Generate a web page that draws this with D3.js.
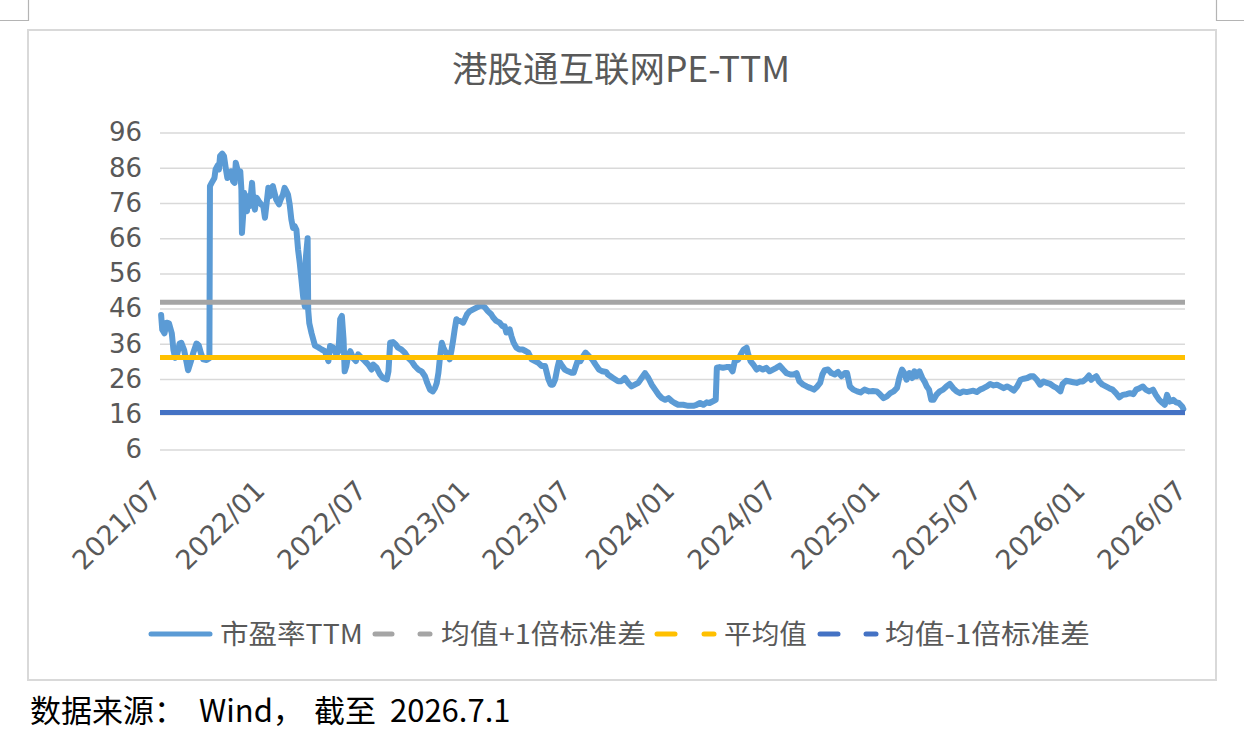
<!DOCTYPE html>
<html><head><meta charset="utf-8">
<script src="https://cdn.jsdelivr.net/npm/d3@7"></script>
<style>body{margin:0;background:#fff}svg{display:block}</style>
</head><body>
<svg id="chart" width="1244" height="746"></svg>
<script>
const chartTitle = "港股通互联网PE-TTM";
const seriesNames = ["市盈率TTM", "均值+1倍标准差", "平均值", "均值-1倍标准差"];
const seriesColors = ["#5B9BD5", "#A5A5A5", "#FFC000", "#4472C4"];
const yTicks = [6, 16, 26, 36, 46, 56, 66, 76, 86, 96];
const xTickLabels = ["2021/07","2022/01","2022/07","2023/01","2023/07","2024/01","2024/07","2025/01","2025/07","2026/01","2026/07"];
const meanPlusSd = 47.8;
const meanValue = 32.1;
const meanMinusSd = 16.5;
const sourceParts = ["数据来源：", "Wind，", "截至", "2026.7.1"];

const dates = [
"2021-07-03","2021-07-05","2021-07-09","2021-07-13","2021-07-17","2021-07-22","2021-07-25","2021-07-28","2021-08-01","2021-08-05",
"2021-08-08","2021-08-13","2021-08-17","2021-08-20","2021-08-25","2021-08-29","2021-09-04","2021-09-08","2021-09-12","2021-09-16",
"2021-09-22","2021-09-27","2021-09-28","2021-10-01","2021-10-06","2021-10-08","2021-10-12","2021-10-14","2021-10-16","2021-10-20",
"2021-10-23","2021-10-26","2021-10-29","2021-11-02","2021-11-05","2021-11-08","2021-11-11","2021-11-13","2021-11-16","2021-11-18",
"2021-11-21","2021-11-23","2021-11-24","2021-11-26","2021-11-28","2021-11-30","2021-12-03","2021-12-05","2021-12-08","2021-12-12",
"2021-12-14","2021-12-17","2021-12-20","2021-12-24","2021-12-28",
"2022-01-01","2022-01-04","2022-01-07","2022-01-10","2022-01-13","2022-01-16","2022-01-18","2022-01-21","2022-01-24","2022-01-29",
"2022-02-01","2022-02-05","2022-02-08","2022-02-11","2022-02-14","2022-02-17","2022-02-20","2022-02-23","2022-02-26","2022-03-01",
"2022-03-04","2022-03-07","2022-03-10","2022-03-13","2022-03-16","2022-03-18","2022-03-21","2022-03-22","2022-03-24","2022-03-28",
"2022-04-03","2022-04-09","2022-04-15","2022-04-21","2022-04-27","2022-04-30","2022-05-06","2022-05-11","2022-05-15","2022-05-18",
"2022-05-21","2022-05-24","2022-05-26","2022-05-29","2022-06-01","2022-06-05","2022-06-10","2022-06-15","2022-06-19","2022-06-25",
"2022-07-01","2022-07-07","2022-07-13","2022-07-16","2022-07-22","2022-07-28","2022-08-02","2022-08-09","2022-08-12","2022-08-15",
"2022-08-20","2022-08-25","2022-08-29","2022-09-04","2022-09-10","2022-09-16","2022-09-22","2022-09-28","2022-10-04","2022-10-10",
"2022-10-16","2022-10-20","2022-10-25","2022-10-30","2022-11-03","2022-11-06","2022-11-09","2022-11-12","2022-11-15","2022-11-18",
"2022-11-21","2022-11-25","2022-11-29","2022-12-02","2022-12-05","2022-12-08","2022-12-11","2022-12-14","2022-12-18","2022-12-23",
"2022-12-26","2022-12-30",
"2023-01-04","2023-01-10","2023-01-16","2023-01-22","2023-01-26","2023-01-31","2023-02-05","2023-02-11","2023-02-15","2023-02-20",
"2023-02-26","2023-03-03","2023-03-07","2023-03-10","2023-03-16","2023-03-19","2023-03-23","2023-03-28","2023-04-02","2023-04-08",
"2023-04-14","2023-04-18","2023-04-24","2023-04-30","2023-05-06","2023-05-12","2023-05-18","2023-05-21","2023-05-24","2023-05-28",
"2023-06-01","2023-06-05","2023-06-09","2023-06-12","2023-06-16","2023-06-22","2023-06-28","2023-07-04","2023-07-08","2023-07-12",
"2023-07-16","2023-07-20","2023-07-25","2023-07-29","2023-08-04","2023-08-10","2023-08-16","2023-08-22","2023-08-28","2023-09-04",
"2023-09-07","2023-09-16","2023-09-25","2023-10-01","2023-10-07","2023-10-13","2023-10-19","2023-10-25","2023-10-31","2023-11-06",
"2023-11-12","2023-11-18","2023-11-24","2023-11-30","2023-12-06","2023-12-12","2023-12-18","2023-12-24","2023-12-30",
"2024-01-04","2024-01-10","2024-01-19","2024-01-28","2024-02-06","2024-02-12","2024-02-18","2024-02-24","2024-03-01","2024-03-06",
"2024-03-12","2024-03-17","2024-03-19","2024-03-24","2024-03-30","2024-04-05","2024-04-11","2024-04-16","2024-04-20","2024-04-26",
"2024-05-02","2024-05-06","2024-05-11","2024-05-14","2024-05-18","2024-05-23","2024-05-29","2024-06-03","2024-06-09","2024-06-15",
"2024-06-21","2024-06-27","2024-07-03","2024-07-09","2024-07-15","2024-07-21","2024-07-28","2024-08-03","2024-08-08","2024-08-13",
"2024-08-20","2024-08-26","2024-09-01","2024-09-08","2024-09-14","2024-09-19","2024-09-23","2024-09-27","2024-10-03","2024-10-09",
"2024-10-15","2024-10-21","2024-10-27","2024-11-02","2024-11-06","2024-11-11","2024-11-17","2024-11-24","2024-11-30","2024-12-07",
"2024-12-15","2024-12-22","2024-12-29",
"2025-01-04","2025-01-10","2025-01-16","2025-01-22","2025-01-28","2025-02-03","2025-02-07","2025-02-12","2025-02-16","2025-02-20",
"2025-02-25","2025-03-02","2025-03-06","2025-03-10","2025-03-15","2025-03-20","2025-03-24","2025-03-28","2025-04-01","2025-04-05",
"2025-04-09","2025-04-14","2025-04-20","2025-04-26","2025-05-02","2025-05-08","2025-05-14","2025-05-20","2025-05-26","2025-06-01",
"2025-06-07","2025-06-13","2025-06-19","2025-06-25","2025-07-01","2025-07-07","2025-07-13","2025-07-19","2025-07-25","2025-07-31",
"2025-08-06","2025-08-12","2025-08-18","2025-08-24","2025-08-30","2025-09-05","2025-09-11","2025-09-17","2025-09-23","2025-09-29",
"2025-10-04","2025-10-10","2025-10-16","2025-10-22","2025-10-28","2025-11-03","2025-11-09","2025-11-15","2025-11-21","2025-11-25",
"2025-12-01","2025-12-08","2025-12-14","2025-12-20","2025-12-26","2025-12-31",
"2026-01-06","2026-01-11","2026-01-15","2026-01-19","2026-01-24","2026-01-29","2026-02-04","2026-02-10","2026-02-16","2026-02-22",
"2026-02-28","2026-03-06","2026-03-12","2026-03-19","2026-03-25","2026-03-31","2026-04-05","2026-04-11","2026-04-17","2026-04-22",
"2026-04-28","2026-05-05","2026-05-10","2026-05-16","2026-05-22","2026-05-26","2026-05-30","2026-06-04","2026-06-10","2026-06-15",
"2026-06-20","2026-06-26","2026-06-28"
];

const pe = [
44.2,40,39,42,41.8,39,34.2,32,33.3,36.1,
36.3,34.2,31,28.5,31,33.3,36.1,35.6,33.3,31.6,
31.4,31.9,80.8,81.7,83.1,85.5,86.7,85.5,89.3,90,
89.3,86,83.1,83.6,85,82.2,81.7,87.4,85.5,83.6,
85,79.8,67.5,72.2,78.9,75.1,73.7,77.9,75.1,81.7,
77,74.1,77.5,76.5,75.6,
75.1,71.8,76,80.3,77.9,80.3,80.8,78.9,77,75.6,
77,78.4,80.3,79.4,78.4,75.6,71.3,68.9,69.4,68.4,
62.7,58.9,54.2,49.4,46.6,60.8,66,45.6,41.8,39,
35.5,35,34.4,33.9,31.1,35.4,34.9,33,33.9,43,
43.9,37.3,28.2,29.7,32.5,33.9,32,31.1,33,32,
31.1,30.1,28.7,30.1,29.2,27.3,26.3,25.9,28.2,36.3,
36.5,35.8,34.9,34.4,33.5,32,31.1,29.7,28.7,28.2,
26.8,24.9,23,22.5,23.5,24.9,27.8,32.5,36.3,34.9,
33.9,33,31.6,33.9,36.8,40.1,43,42.5,42.5,42,
43,44.4,
45.3,45.8,46.3,46.8,46.8,46.3,45.3,44.4,43.4,42.5,
42,41,41,39.2,40.1,38.2,36.3,34.9,34.4,34.4,
33.9,33.5,31.6,31.1,30.6,29.7,29.7,27.8,25.9,24.4,
24.4,25.9,29.2,31.1,30.1,28.7,28.2,27.8,27.8,29.7,
31.6,31.1,32.5,33.5,32.5,31.6,30.1,28.7,28.2,28,
27.3,26.3,25.4,25.4,26.3,24.9,23.9,24.4,24.9,26.3,
27.7,26.3,24.4,23,21.6,20.6,20.1,20.6,19.7,
19.2,18.7,18.7,18.4,18.4,18.7,19.2,18.7,19.4,19.2,
19.7,20.1,29.2,29.4,29.2,29.4,29.4,28.2,31.1,31.5,
33.4,34.4,34.9,33,31.1,30.1,28.7,29.2,28.7,29.2,
28.2,28.7,29.2,29.8,28.7,27.7,27.3,27.3,27.7,25.4,
24.4,23.9,23.5,23,23.9,24.9,27.3,28.5,28.7,27.7,
27.3,28,26.8,27.7,27.7,23.9,23,22.5,22.2,23,
22.5,22.6,22.5,
21.6,20.6,21.1,22,22.5,23.5,26.3,28.7,27.7,25.8,
27.7,26.3,28.2,26.8,28.2,26.3,25.3,23.9,23,20.1,
20.1,21.5,22.5,23,23.9,24.6,23.4,22.5,22,22.5,
22.3,22.5,22.7,22.3,23,23.4,23.9,24.6,24.2,24.4,
23.9,23.4,23.9,23.4,22.7,23.9,25.8,26.1,26.3,26.8,
26.8,25.8,24.4,25.3,24.9,24.6,23.9,23.4,22.5,24.6,
25.5,25.3,25.1,24.9,25.3,25.3,
26.1,27,25.8,26.3,26.8,25.3,24.4,23.9,23.4,23,
22,20.8,21.5,21.7,22,21.7,23,23.4,23.9,23,
22.5,23,21.5,20.1,19.2,18.7,21.5,19.6,20.1,19.4,
19.2,18.2,17.5
];

const parse = d3.timeParse("%Y-%m-%d");
const parseTick = d3.timeParse("%Y/%m");
const data = dates.map((d, i) => ({ date: parse(d), v: pe[i] }));
const tickDates = xTickLabels.map(parseTick);

const svg = d3.select("#chart");
const NUM = "'DejaVu Sans','Liberation Sans',sans-serif";
const CJK = "'Noto Sans CJK SC','Liberation Sans',sans-serif";
const textColor = "#595959";

// page corner marks
const marks = svg.append("g").attr("stroke", "#b4b4b4").attr("stroke-width", 1.2).attr("fill", "none");
marks.append("path").attr("d", "M0,20.5H28.5V0");
marks.append("path").attr("d", "M1244,20.5H1216.5V0");

// chart frame
svg.append("rect").attr("x", 28).attr("y", 30).attr("width", 1188).attr("height", 650)
  .attr("fill", "#fff").attr("stroke", "#d9d9d9").attr("stroke-width", 2);

const x = d3.scaleTime().domain([tickDates[0], tickDates[tickDates.length - 1]]).range([160, 1185]);
const y = d3.scaleLinear().domain([6, 96]).range([449.5, 132.5]);

// title
svg.append("text").attr("x", 621).attr("y", 81.5).attr("text-anchor", "middle")
  .attr("font-family", CJK).attr("font-size", 35).attr("fill", textColor)
  .attr("textLength", 338).attr("lengthAdjust", "spacingAndGlyphs").text(chartTitle);

// grid lines via axis
const grid = svg.append("g").attr("transform", "translate(160,0)")
  .call(d3.axisLeft(y).tickValues(yTicks).tickSize(-(1185 - 160)).tickFormat(""));
grid.select(".domain").remove();
grid.selectAll(".tick line").attr("stroke", "#d9d9d9").attr("stroke-width", 1.5);

// y axis labels
const yAxis = svg.append("g").attr("transform", "translate(160,0)")
  .call(d3.axisLeft(y).tickValues(yTicks).tickSize(0).tickPadding(18).tickFormat(d3.format("d")));
yAxis.select(".domain").remove();
yAxis.selectAll("text").attr("font-family", NUM).attr("font-size", 26).attr("fill", textColor);

// x axis labels
const xAxis = svg.append("g").attr("transform", "translate(0,449.5)")
  .call(d3.axisBottom(x).tickValues(tickDates).tickSize(0).tickFormat(d3.timeFormat("%Y/%m")));
xAxis.select(".domain").remove();
xAxis.selectAll("text")
  .attr("font-family", NUM).attr("font-size", 27).attr("fill", textColor)
  .attr("text-anchor", "end").attr("x", 0).attr("y", 0).attr("dy", "0.35em")
  .attr("transform", "translate(-4,36) rotate(-45)");

// PE line
const line = d3.line().x(d => x(d.date)).y(d => y(d.v));
svg.append("path").datum(data).attr("d", line).attr("fill", "none")
  .attr("stroke", seriesColors[0]).attr("stroke-width", 6)
  .attr("stroke-linejoin", "round").attr("stroke-linecap", "round");

// reference lines
const refs = [meanPlusSd, meanValue, meanMinusSd];
svg.selectAll(".ref").data(refs).enter().append("line")
  .attr("x1", x.range()[0]).attr("x2", x.range()[1])
  .attr("y1", d => y(d)).attr("y2", d => y(d))
  .attr("stroke", (d, i) => seriesColors[i + 1]).attr("stroke-width", 5);

// legend
const legY = 634;
const legend = svg.append("g");
const legItems = [
  { name: seriesNames[0], color: seriesColors[0], segs: [[151, 210]], tx: 220, w: 143 },
  { name: seriesNames[1], color: seriesColors[1], segs: [[375, 392], [420, 430]], tx: 441, w: 205 },
  { name: seriesNames[2], color: seriesColors[2], segs: [[657, 675], [704, 714]], tx: 724, w: 83 },
  { name: seriesNames[3], color: seriesColors[3], segs: [[820, 838], [866, 876]], tx: 885, w: 205 }
];
legItems.forEach(it => {
  it.segs.forEach(s => legend.append("line").attr("x1", s[0]).attr("x2", s[1]).attr("y1", legY).attr("y2", legY)
    .attr("stroke", it.color).attr("stroke-width", 5).attr("stroke-linecap", "round"));
  legend.append("text").attr("x", it.tx).attr("y", legY).attr("dy", "0.36em")
    .attr("font-family", CJK).attr("font-size", 27).attr("fill", textColor)
    .attr("textLength", it.w).attr("lengthAdjust", "spacingAndGlyphs").text(it.name);
});

// source note
const src = svg.append("text").attr("y", 722).attr("font-family", CJK).attr("font-size", 31).attr("fill", "#000");
const srcX = [30, 199, 314, 390];
sourceParts.forEach((p, i) => src.append("tspan").attr("x", srcX[i]).text(p));
</script>
</body></html>
